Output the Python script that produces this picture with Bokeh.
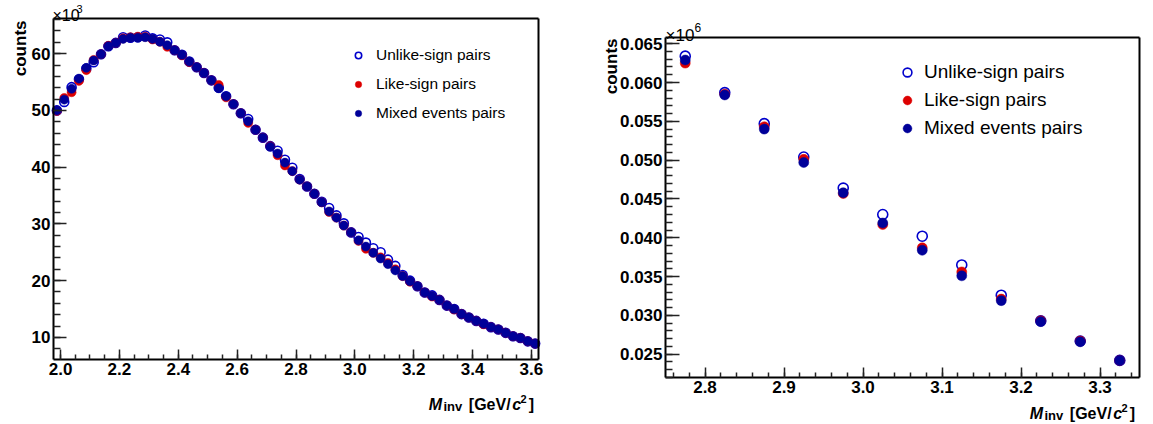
import math
from bokeh.plotting import figure
from bokeh.layouts import row
from bokeh.models import (Range1d, SingleIntervalTicker, FixedTicker, NumeralTickFormatter, Label,
                          Legend, LegendItem, ColumnDataSource, LinearAxis)
from bokeh.embed import file_html
from bokeh.resources import INLINE

FONT = "Liberation Sans"

# ---------------- data: left panel (counts in units of 10^3) ----------------
mass_left = [1.9875, 2.0125, 2.0375, 2.0625, 2.0875, 2.1125, 2.1375, 2.1625, 2.1875, 2.2125,
             2.2375, 2.2625, 2.2875, 2.3125, 2.3375, 2.3625, 2.3875, 2.4125, 2.4375, 2.4625,
             2.4875, 2.5125, 2.5375, 2.5625, 2.5875, 2.6125, 2.6375, 2.6625, 2.6875, 2.7125,
             2.7375, 2.7625, 2.7875, 2.8125, 2.8375, 2.8625, 2.8875, 2.9125, 2.9375, 2.9625,
             2.9875, 3.0125, 3.0375, 3.0625, 3.0875, 3.1125, 3.1375, 3.1625, 3.1875, 3.2125,
             3.2375, 3.2625, 3.2875, 3.3125, 3.3375, 3.3625, 3.3875, 3.4125, 3.4375, 3.4625,
             3.4875, 3.5125, 3.5375, 3.5625, 3.5875, 3.6125]
unlike_left = [50.0, 51.5, 54.1, 55.5, 57.4, 58.5, 59.9, 61.3, 61.9, 62.9,
               62.8, 62.9, 63.2, 62.7, 62.5, 62.0, 60.6, 59.8, 58.6, 57.6,
               56.6, 55.3, 54.0, 52.5, 51.1, 49.5, 48.5, 46.6, 45.2, 43.7,
               42.9, 41.3, 39.9, 37.9, 36.6, 35.3, 33.9, 32.8, 31.5, 30.1,
               28.5, 27.7, 26.7, 25.7, 25.0, 23.7, 22.6, 21.0, 20.0, 19.0,
               17.9, 17.4, 16.6, 15.6, 15.0, 14.1, 13.5, 12.9, 12.4, 11.8,
               11.4, 10.8, 10.2, 9.9, 9.3, 8.9]
like_left = [49.9, 52.2, 53.2, 55.2, 57.1, 58.9, 59.9, 61.4, 61.9, 62.7,
             62.9, 63.0, 63.0, 62.5, 62.1, 61.2, 60.6, 59.7, 58.5, 57.6,
             56.6, 55.3, 54.5, 52.3, 51.1, 49.5, 47.8, 46.6, 45.2, 43.7,
             42.1, 40.3, 39.3, 37.8, 36.6, 35.3, 33.8, 32.1, 31.1, 29.7,
             28.5, 27.0, 25.6, 24.9, 24.1, 23.1, 22.0, 20.8, 19.8, 19.0,
             17.9, 17.2, 16.6, 15.6, 14.9, 14.1, 13.5, 12.9, 12.3, 11.8,
             11.4, 10.8, 10.2, 9.9, 9.3, 8.9]
mixed_left = [50.0, 51.9, 53.8, 55.6, 57.5, 58.8, 59.9, 61.3, 61.9, 62.6,
              62.8, 62.8, 62.9, 62.6, 62.1, 61.5, 60.6, 59.8, 58.6, 57.6,
              56.6, 55.3, 53.9, 52.5, 51.1, 49.5, 48.1, 46.6, 45.2, 43.6,
              42.4, 40.8, 39.3, 37.8, 36.6, 35.3, 33.8, 32.2, 31.1, 29.7,
              28.5, 27.1, 26.0, 24.9, 23.9, 22.9, 21.8, 20.8, 19.9, 19.0,
              17.9, 17.3, 16.6, 15.6, 15.0, 14.1, 13.5, 12.9, 12.4, 11.8,
              11.4, 10.8, 10.2, 9.9, 9.3, 8.9]

# ---------------- data: right panel (counts in units of 10^6) ----------------
mass_right = [2.775, 2.825, 2.875, 2.925, 2.975, 3.025, 3.075, 3.125, 3.175, 3.225, 3.275, 3.325]
unlike_right = [0.0634, 0.0587, 0.0547, 0.0504, 0.0464, 0.0430, 0.0402, 0.0365, 0.0326, 0.0293, 0.0267, 0.0242]
like_right = [0.0625, 0.0585, 0.0543, 0.0501, 0.0457, 0.0417, 0.0387, 0.0356, 0.0321, 0.0293, 0.0267, 0.0242]
mixed_right = [0.0629, 0.0584, 0.0540, 0.0497, 0.0458, 0.0419, 0.0384, 0.0351, 0.0319, 0.0292, 0.0266, 0.0242]

legend_labels = ["Unlike-sign pairs", "Like-sign pairs", "Mixed events pairs"]

UNLIKE_COL = "#0000cc"
LIKE_COL = "#dd0000"
MIXED_COL = "#000099"

H = 424


def make_figure(W, box, xr, yr):
    """box = (left, top, right, bottom) pixel edges of the drawn plot box inside the canvas."""
    bl, bt, br, bb = box
    kx = (br - bl) / (xr[1] - xr[0])
    ky = (bb - bt) / (yr[1] - yr[0])
    x_range = Range1d(xr[0] - bl / kx, xr[1] + (W - br) / kx)
    y_range = Range1d(yr[0] - (H - bb) / ky, yr[1] + bt / ky)
    p = figure(width=W, height=H, output_backend="svg", toolbar_location=None,
               x_range=x_range, y_range=y_range,
               min_border_left=0, min_border_right=0, min_border_top=0, min_border_bottom=0)
    p.outline_line_color = None
    p.xgrid.visible = False
    p.ygrid.visible = False
    return p


def style_axes(p, xr, yr, xtick, xminor, xfmt, ytick, yminor, yfmt, ymaj, ymin):
    xa, ya = p.xaxis[0], p.yaxis[0]
    xa.fixed_location = yr[0]
    xa.bounds = xr
    ya.fixed_location = xr[0]
    ya.bounds = yr
    xa.ticker = SingleIntervalTicker(interval=xtick, num_minor_ticks=xminor)
    ya.ticker = SingleIntervalTicker(interval=ytick, num_minor_ticks=yminor)
    xa.formatter = NumeralTickFormatter(format=xfmt)
    ya.formatter = NumeralTickFormatter(format=yfmt)
    for ax, mj, mn in ((xa, 10, 5), (ya, ymaj, ymin)):
        ax.major_tick_in = mj
        ax.major_tick_out = 0
        ax.minor_tick_in = mn
        ax.minor_tick_out = 0
        ax.axis_line_width = 2
        ax.axis_line_color = "black"
        ax.major_tick_line_color = "#222222"
        ax.minor_tick_line_color = "#222222"
        ax.major_tick_line_width = 1.5
        ax.minor_tick_line_width = 1.5
        ax.major_label_text_font = FONT
        ax.major_label_text_font_style = "bold"
        ax.major_label_text_font_size = "17px"
        ax.major_label_text_color = "black"
        ax.major_label_standoff = 3
    # closing lines of the box (top and right), axes without ticks
    top = LinearAxis(fixed_location=yr[1], bounds=xr, ticker=FixedTicker(ticks=[]),
                     axis_line_width=2, axis_line_color="black",
                     major_tick_in=0, major_tick_out=0, minor_tick_in=0, minor_tick_out=0,
                     major_label_text_font_size="0px")
    right = LinearAxis(fixed_location=xr[1], bounds=yr, ticker=FixedTicker(ticks=[]),
                       axis_line_width=2, axis_line_color="black",
                       major_tick_in=0, major_tick_out=0, minor_tick_in=0, minor_tick_out=0,
                       major_label_text_font_size="0px")
    p.add_layout(top, "above")
    p.add_layout(right, "right")


def canvas_label(p, cx, cy, text, size, style="normal", angle=0.0, align="left"):
    # cx, cy: canvas pixel position (y measured from the top)
    p.add_layout(Label(x=cx, y=H - cy, x_units="screen", y_units="screen", text=text,
                       text_font=FONT, text_font_size=f"{size}px", text_font_style=style,
                       text_baseline="alphabetic", text_align=align, text_color="black",
                       angle=angle))


def add_xlabel(p, box_right, baseline):
    pieces = [("M", -109.7, 0, 16, "bold italic"),
              ("inv", -95.0, 2, 13, "bold"),
              ("[GeV/", -69.7, 0, 16, "bold"),
              ("c", -26.3, 0, 16, "bold italic"),
              ("2", -18.0, -6, 11, "bold"),
              ("]", -9.7, 0, 16, "bold")]
    for text, dx, ddy, size, style in pieces:
        canvas_label(p, box_right + dx, baseline + ddy, text, size, style)


def add_series(p, xs, unlike, like, mixed, size):
    s_un = ColumnDataSource(dict(x=xs, y=unlike))
    s_li = ColumnDataSource(dict(x=xs, y=like))
    s_mi = ColumnDataSource(dict(x=xs, y=mixed))
    r_un = p.scatter("x", "y", source=s_un, marker="circle", size=size, fill_color=None,
                     line_color=UNLIKE_COL, line_width=1.6)
    r_li = p.scatter("x", "y", source=s_li, marker="circle", size=size, fill_color=LIKE_COL,
                     line_color=LIKE_COL, line_width=0.5)
    r_mi = p.scatter("x", "y", source=s_mi, marker="circle", size=size, fill_color=MIXED_COL,
                     line_color=MIXED_COL, line_width=0.5)
    return [r_un, r_li, r_mi]


def add_legend(p, renderers, loc, font_px, glyph, spacing, standoff):
    items = [LegendItem(label=lab, renderers=[r]) for lab, r in zip(legend_labels, renderers)]
    lg = Legend(items=items, location=loc, border_line_alpha=0, background_fill_alpha=0,
                padding=0, margin=0, spacing=spacing, glyph_width=glyph, glyph_height=glyph,
                label_height=20, label_standoff=standoff, label_text_font=FONT,
                label_text_font_size=f"{font_px}px", label_text_color="black")
    p.add_layout(lg)


# ---------------- left figure ----------------
XR1, YR1 = (1.976, 3.624), (6.1, 66.2)
BOX1 = (53, 18, 538, 359)
p1 = make_figure(576, BOX1, XR1, YR1)
style_axes(p1, XR1, YR1, 0.2, 4, "0.0", 10, 5, "0", 13, 7)
r1 = add_series(p1, mass_left, unlike_left, like_left, mixed_left, 9)
add_legend(p1, r1, (350, H - 123), 15.5, 16, 9, 10)
add_xlabel(p1, 538, 404)
canvas_label(p1, 20, 20, "counts", 17, "bold", angle=math.pi / 2, align="right")
canvas_label(p1, 52, 15, "\u00d710", 16)
canvas_label(p1, 76, 8, "3", 11)

# ---------------- right figure ----------------
XR2, YR2 = (2.75, 3.35), (0.022, 0.0658)
BOX2 = (89, 37, 563, 377)
p2 = make_figure(577, BOX2, XR2, YR2)
style_axes(p2, XR2, YR2, 0.1, 5, "0.0", 0.005, 5, "0.000", 14, 7)
r2 = add_series(p2, mass_right, unlike_right, like_right, mixed_right, 10)
add_legend(p2, r2, (320, H - 139), 19, 22, 6, 6)
add_xlabel(p2, 563, 413)
canvas_label(p2, 35, 38, "counts", 17, "bold", angle=math.pi / 2, align="right")
canvas_label(p2, 89, 35, "\u00d710", 17)
canvas_label(p2, 118, 27, "6", 12)

layout = row(p1, p2, spacing=0)
open("out.html", "w").write(file_html(layout, INLINE))
